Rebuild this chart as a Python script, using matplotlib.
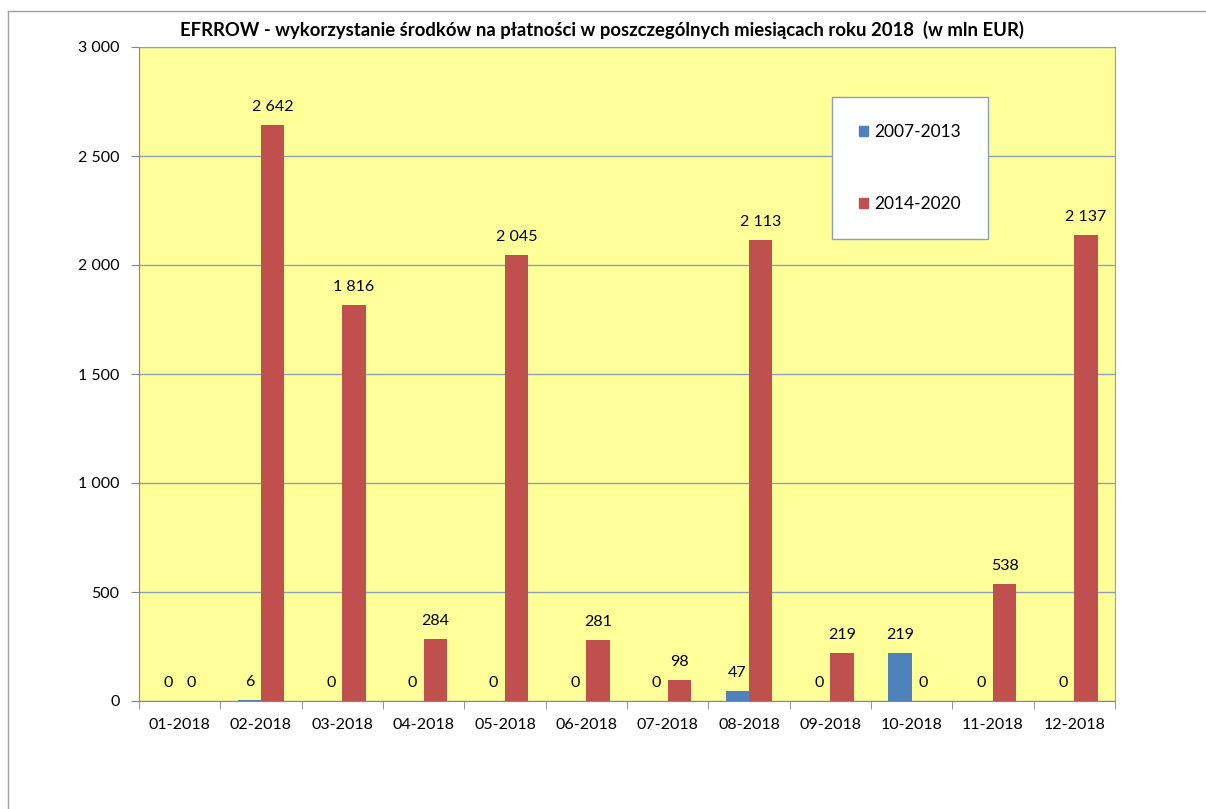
import numpy as np
import matplotlib
matplotlib.use('Agg')
import matplotlib.pyplot as plt
from matplotlib.lines import Line2D

plt.rcParams['font.family'] = ['Lato', 'DejaVu Sans']

# data
months = ['01-2018', '02-2018', '03-2018', '04-2018', '05-2018', '06-2018',
          '07-2018', '08-2018', '09-2018', '10-2018', '11-2018', '12-2018']
old_period = [0, 6, 0, 0, 0, 0, 0, 47, 0, 219, 0, 0.4]
new_period = [0, 2642, 1816, 284, 2045, 281, 98, 2113, 219, 0, 538, 2137]
series_names = ['2007-2013', '2014-2020']
title = 'EFRROW - wykorzystanie środków na płatności w poszczególnych miesiącach roku 2018  (w mln EUR)'

blue = '#4F81BD'
red = '#C0504D'
grid_col = '#8EA0B8'

fig = plt.figure(figsize=(12.06, 8.09), dpi=100)
ax = fig.add_axes([139 / 1206, 1 - 701 / 809, (1115 - 139) / 1206, (701 - 47) / 809])
ax.set_facecolor('#FFFF99')

x = np.arange(len(months))
w = 0.285
b1 = ax.bar(x - w / 2, old_period, w, color=blue, zorder=3)
b2 = ax.bar(x + w / 2, new_period, w, color=red, zorder=3)


def fmt(v):
    return '{:,}'.format(int(round(v))).replace(',', ' ')


for bars, vals in ((b1, old_period), (b2, new_period)):
    for rect, v in zip(bars, vals):
        ax.annotate(fmt(v), (rect.get_x() + rect.get_width() / 2, rect.get_height()),
                    xytext=(0, 8), textcoords='offset points', ha='center', va='bottom',
                    fontsize=11.5, color='#000000')

ax.set_xlim(-0.5, len(months) - 0.5)
ax.set_ylim(0, 3000)
ax.set_yticks(np.arange(0, 3001, 500))
ax.set_yticklabels([fmt(v) for v in np.arange(0, 3001, 500)], fontsize=11.5)
ax.yaxis.grid(True, color=grid_col, linewidth=1, zorder=0)
ax.set_axisbelow(True)

ax.set_xticks(x)
ax.set_xticklabels(months, fontsize=11.5)
ax.tick_params(axis='x', length=0, pad=12)
ax.set_xticks(np.arange(-0.5, len(months)), minor=True)
ax.tick_params(axis='x', which='minor', length=6, color='#868686', direction='out')
ax.tick_params(axis='y', length=6, color='#868686', direction='out', pad=8)

for s in ['top', 'right']:
    ax.spines[s].set_color(grid_col)
for s in ['left', 'bottom']:
    ax.spines[s].set_color('#868686')

fig.text(602 / 1206, 1 - 30 / 809, title, ha='center', va='center',
         fontsize=13.3, fontweight='bold')

handles = [plt.Rectangle((0, 0), 1, 1, color=blue), plt.Rectangle((0, 0), 1, 1, color=red)]
leg = fig.legend(handles, series_names, loc='upper left',
                 bbox_to_anchor=(832 / 1206, 1 - 97 / 809), fontsize=12.5,
                 frameon=True, fancybox=False, framealpha=1, labelspacing=3.25,
                 handlelength=0.55, handleheight=0.55, handletextpad=0.35,
                 borderpad=1.55, borderaxespad=0)
leg.get_frame().set_edgecolor(grid_col)
leg.get_frame().set_linewidth(1)

# outer sheet border
fig.add_artist(Line2D([8 / 1206, 1], [1 - 11 / 809, 1 - 11 / 809], color='#A0A0A0', linewidth=1))
fig.add_artist(Line2D([8 / 1206, 8 / 1206], [0, 1 - 11 / 809], color='#A0A0A0', linewidth=1))

fig.savefig('out.png', dpi=100)
